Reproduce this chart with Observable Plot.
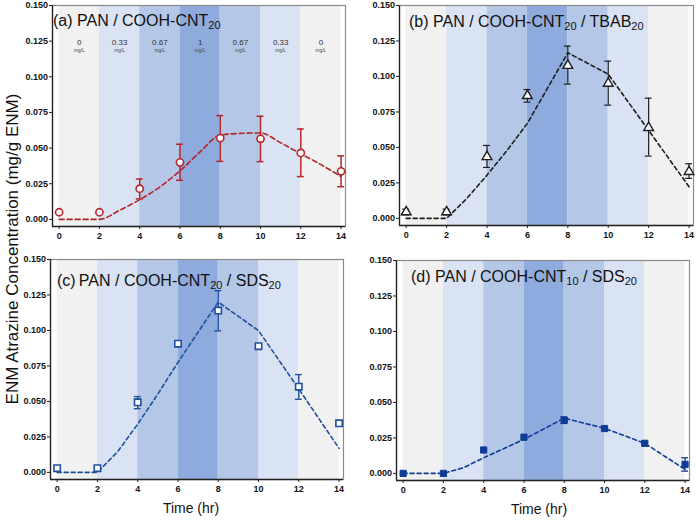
<!DOCTYPE html>
<html>
<head>
<meta charset="utf-8">
<script src="https://cdn.jsdelivr.net/npm/d3@7"></script>
<script src="https://cdn.jsdelivr.net/npm/@observablehq/plot@0.6"></script>
<style>
  html, body { margin: 0; padding: 0; background: #fff; }
  #fig { position: relative; width: 696px; height: 520px; background: #fff; font-family: "Liberation Sans", Arial, sans-serif; overflow: hidden; }
  .panel { position: absolute; }
  .title { position: absolute; font-size: 16px; line-height: 16px; color: #111; white-space: nowrap; }
  .title sub { font-size: 11px; line-height: 0; vertical-align: -3px; }
  #ytitle { position: absolute; left: 13px; top: 249px; transform: translate(-50%, -50%) rotate(-90deg); font-size: 17px; white-space: nowrap; color: #111; }
</style>
</head>
<body>
<div id="fig">
  <div id="ytitle">ENM Atrazine Concentration (mg/g ENM)</div>
</div>
<script>
// ---------- data ----------
const times = [0, 2, 4, 6, 8, 10, 12, 14];
const xTicks = [0, 2, 4, 6, 8, 10, 12, 14];
const yTicks = [0, 0.025, 0.05, 0.075, 0.1, 0.125, 0.15];

// concentration bands (mg/L) between sampling times
const bandStart = [0, 2, 4, 6, 8, 10, 12];
const bandEnd = [2, 4, 6, 8, 10, 12, 14];
const bandLevel = ["0", "0.33", "0.67", "1", "0.67", "0.33", "0"];
const bandUnit = "mg/L";
const bandColor = ["#f1f1f1", "#dae3f3", "#b4c7e7", "#8faadc", "#b4c7e7", "#dae3f3", "#f1f1f1"];

// (a) PAN / COOH-CNT20
const aMean = [0.005, 0.005, 0.0215, 0.040, 0.057, 0.0565, 0.0466, 0.0337];
const aLow = [null, null, 0.0143, 0.0274, 0.0407, 0.0405, 0.030, 0.0229];
const aHigh = [null, null, 0.0283, 0.0527, 0.0728, 0.0723, 0.0634, 0.0445];
const aModelT = [0, 1, 2, 3, 4, 5, 6, 7, 8, 9, 10, 11, 12, 13, 14];
const aModelV = [0, 0, 0, 0.0063, 0.0138, 0.0227, 0.034, 0.0473, 0.059, 0.0603, 0.0606, 0.0537, 0.046, 0.0384, 0.030];

// (b) PAN / COOH-CNT20 / TBAB20
const bMean = [0.0045, 0.0045, 0.0434, 0.0864, 0.1077, 0.0951, 0.0639, 0.0329];
const bLow = [0.0025, 0.0025, 0.0359, 0.0819, 0.0946, 0.0798, 0.0439, 0.0282];
const bHigh = [0.0065, 0.0065, 0.0514, 0.0908, 0.1214, 0.1108, 0.0847, 0.0385];
const bModelT = [0, 2, 3, 4, 5, 6, 8, 10, 12, 14];
const bModelV = [0, 0, 0.014, 0.0305, 0.048, 0.067, 0.1167, 0.1016, 0.062, 0.0223];

// (c) PAN / COOH-CNT20 / SDS20
const cMean = [0.003, 0.003, 0.0494, 0.0907, 0.114, 0.0889, 0.0604, 0.0346];
const cLow = [null, null, 0.0449, 0.0890, 0.0997, null, 0.0515, null];
const cHigh = [null, null, 0.0534, 0.0923, 0.128, null, 0.0689, null];
const cModelT = [0, 2, 3, 4, 5, 6, 8, 10, 12, 14];
const cModelV = [0, 0, 0.0145, 0.034, 0.0552, 0.0776, 0.120, 0.0999, 0.0588, 0.0169];

// (d) PAN / COOH-CNT10 / SDS20
const dMean = [0, 0, 0.0165, 0.0255, 0.0375, 0.0316, 0.0212, 0.0064];
const dLow = [null, null, null, null, 0.0352, null, null, 0.0016];
const dHigh = [null, null, null, null, 0.0398, null, null, 0.011];
const dModelT = [0, 2, 3, 4, 6, 8, 10, 12, 14];
const dModelV = [0, 0, 0.004, 0.011, 0.024, 0.0389, 0.0318, 0.0212, 0.0028];

// ---------- helpers ----------
const xDomain = [-0.33, 14.22];
const yDomain = [-0.005, 0.15];
const bands = bandStart.map((s, i) => ({start: s, end: bandEnd[i], level: bandLevel[i], color: bandColor[i]}));
const pts = (mean, lo, hi) => times.map((t, i) => ({t, mean: mean[i], lo: lo[i], hi: hi[i]}));
const modelRows = (T, V) => T.map((t, i) => ({t, v: V[i]}));
const capHalf = 0.17;

function panel(cfg) {
  const data = pts(cfg.mean, cfg.lo, cfg.hi);
  const errs = data.filter(d => d.lo != null && d.hi != null);
  const model = modelRows(cfg.modelT, cfg.modelV);
  const marks = [
    Plot.rect(bands, {x1: "start", x2: "end", fill: "color"}),
    Plot.frame({stroke: "#8a8a8a", strokeWidth: 1.2}),
    Plot.ruleX([xDomain[0]], {stroke: "#222", strokeWidth: 1.3}),
    Plot.ruleY([yDomain[0]], {stroke: "#222", strokeWidth: 1.3}),
    Plot.axisY({ticks: yTicks, tickFormat: d3.format(".3f"), tickSize: 3, tickPadding: 1.5, fontSize: 9, fontWeight: "bold", label: null, stroke: "#222"}),
    Plot.axisX({ticks: xTicks, tickFormat: d => String(d), tickSize: 3, tickPadding: 3, fontSize: 9, fontWeight: "bold", label: null, stroke: "#222"})
  ];
  if (cfg.bandLabels) {
    marks.push(
      Plot.text(bands, {x: d => (d.start + d.end) / 2, y: () => 0.1242, text: "level", fontSize: 8, fill: "#333"}),
      Plot.text(bands, {x: d => (d.start + d.end) / 2, y: () => 0.1188, text: () => bandUnit, fontSize: 4.8, fill: "#444"})
    );
  }
  marks.push(
    Plot.line(model, {x: "t", y: "v", stroke: cfg.color, strokeWidth: 1.6, strokeDasharray: cfg.dash, curve: cfg.curve}),
    Plot.ruleX(errs, {x: "t", y1: "lo", y2: "hi", stroke: cfg.color, strokeWidth: cfg.errWidth}),
    Plot.ruleY(errs, {y: "hi", x1: d => d.t - capHalf, x2: d => d.t + capHalf, stroke: cfg.color, strokeWidth: cfg.errWidth}),
    Plot.ruleY(errs, {y: "lo", x1: d => d.t - capHalf, x2: d => d.t + capHalf, stroke: cfg.color, strokeWidth: cfg.errWidth}),
    Plot.dot(data, {x: "t", y: "mean", symbol: cfg.symbol, r: cfg.r, fill: cfg.fill, stroke: cfg.color, strokeWidth: cfg.sw})
  );
  if (cfg.xLabel) {
    marks.push(Plot.text([cfg.xLabel], {text: d => d, frameAnchor: "bottom", dy: 33, dx: cfg.xLabelDx, fontSize: 14, fill: "#111"}));
  }
  const svg = Plot.plot({
    width: cfg.width, height: cfg.height,
    marginLeft: cfg.mL, marginRight: cfg.mR, marginTop: cfg.mT, marginBottom: cfg.mB,
    x: {domain: xDomain, axis: null},
    y: {domain: yDomain, axis: null},
    color: {type: "identity"},
    style: {fontFamily: "'Liberation Sans', Arial, sans-serif", background: "transparent", color: "#111", overflow: "visible"},
    marks
  });
  svg.classList.add("panel");
  svg.style.left = cfg.left + "px";
  svg.style.top = cfg.top + "px";
  document.getElementById("fig").appendChild(svg);

  const t = document.createElement("div");
  t.className = "title";
  t.style.left = cfg.titleX + "px";
  t.style.top = cfg.titleY + "px";
  t.innerHTML = cfg.title;
  document.getElementById("fig").appendChild(t);
}

panel({
  left: 0, top: 0, width: 348, height: 250, mL: 52, mR: 3, mT: 5, mB: 24,
  mean: aMean, lo: aLow, hi: aHigh, modelT: aModelT, modelV: aModelV,
  color: "#b3272b", symbol: "circle", r: 3.6, fill: "white", sw: 1.6, errWidth: 1.5,
  dash: "5,3", curve: "monotone-x", bandLabels: true,
  title: "(a) PAN / COOH-CNT<sub>20</sub>", titleX: 53, titleY: 12.5
});
panel({
  left: 348, top: 0, width: 348, height: 250, mL: 51, mR: 3, mT: 5, mB: 25,
  mean: bMean, lo: bLow, hi: bHigh, modelT: bModelT, modelV: bModelV,
  color: "#1e1e1e", symbol: "triangle", r: 3.6, fill: "white", sw: 1.4, errWidth: 1.2,
  dash: "4,3", curve: "linear",
  title: "(b) PAN / COOH-CNT<sub>20</sub> / TBAB<sub>20</sub>", titleX: 409, titleY: 14
});
panel({
  left: 0, top: 254, width: 348, height: 266, mL: 50, mR: 5, mT: 5, mB: 41,
  mean: cMean, lo: cLow, hi: cHigh, modelT: cModelT, modelV: cModelV,
  color: "#1f4f9f", symbol: "square", r: 3.6, fill: "white", sw: 1.6, errWidth: 1.4,
  dash: "4,3", curve: "linear", xLabel: "Time (hr)", xLabelDx: -6,
  title: "(c)&#8201;PAN / COOH-CNT<sub>20</sub> / SDS<sub>20</sub>", titleX: 57, titleY: 272.5
});
panel({
  left: 348, top: 254, width: 348, height: 266, mL: 48, mR: 7, mT: 6, mB: 40,
  mean: dMean, lo: dLow, hi: dHigh, modelT: dModelT, modelV: dModelV,
  color: "#0f3c96", symbol: "square", r: 3.5, fill: "#0f3c96", sw: 1, errWidth: 1.3,
  dash: "4,3", curve: "linear", xLabel: "Time (hr)", xLabelDx: -4,
  title: "(d) PAN / COOH-CNT<sub>10</sub> / SDS<sub>20</sub>", titleX: 411, titleY: 268.5
});
</script>
</body>
</html>
